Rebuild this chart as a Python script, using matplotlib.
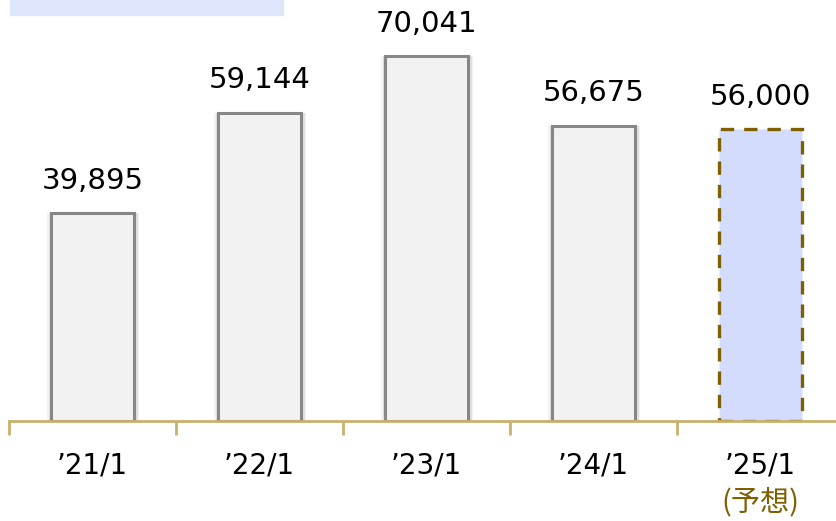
import matplotlib.pyplot as plt
from matplotlib.patches import Rectangle
from matplotlib.transforms import offset_copy

plt.rcParams['font.family'] = ['DejaVu Sans', 'Noto Sans CJK JP']

# データ
periods = ['’21/1', '’22/1', '’23/1', '’24/1', '’25/1']
values = [39895, 59144, 70041, 56675, 56000]
forecast = [False, False, False, False, True]

fig = plt.figure(figsize=(8.36, 5.21), dpi=100)
ax = fig.add_axes([9 / 836, 100 / 521, 835 / 836, 417 / 521])

xs = list(range(len(periods)))
for i, (v, f) in enumerate(zip(values, forecast)):
    if f:
        ax.bar(i, v, width=0.5, color='#D4DCFD', edgecolor='#7F6000',
               linewidth=2.4, linestyle=(0, (4, 3)), zorder=3)
    else:
        # ぼかし影
        for k, a in enumerate([0.05, 0.07, 0.09]):
            ax.bar(i + 0.004, v, width=0.5 + 0.016 * (3 - k), color='#000000',
                   alpha=a, linewidth=0, zorder=2)
        ax.bar(i, v, width=0.5, color='#F2F2F2', edgecolor='#878787',
               linewidth=2.2, zorder=3)
    ax.text(i, v + 3500, f'{v:,}', ha='center', va='bottom', fontsize=21)

ax.set_xlim(-0.5, 4.5)
ax.set_ylim(0, 80000)
for s in ['top', 'right', 'left']:
    ax.spines[s].set_visible(False)
ax.spines['bottom'].set_color('#C9B06B')
ax.spines['bottom'].set_linewidth(2)
ax.spines['bottom'].set_zorder(4)
ax.set_yticks([])
ax.set_xticks([x - 0.5 for x in xs])
ax.set_xticklabels([])
ax.tick_params(axis='x', direction='out', length=10, width=2, color='#C9B06B')

trans = ax.get_xaxis_transform()
for i, p in enumerate(periods):
    ax.text(i, 0, p, transform=offset_copy(trans, fig=fig, y=-45, units='dots'),
            ha='center', va='center', fontsize=20)
ax.text(4, 0, '(予想)', transform=offset_copy(trans, fig=fig, y=-81, units='dots'),
        ha='center', va='center', fontsize=21, color='#7F6000',
        family=['Noto Sans CJK JP', 'DejaVu Sans'])

# 左上の帯
fig.patches.append(Rectangle((10 / 836, 506 / 521), 273 / 836, 15 / 521,
                             transform=fig.transFigure, color='#DEE6FC', zorder=0))

fig.savefig('out.png', dpi=100)
